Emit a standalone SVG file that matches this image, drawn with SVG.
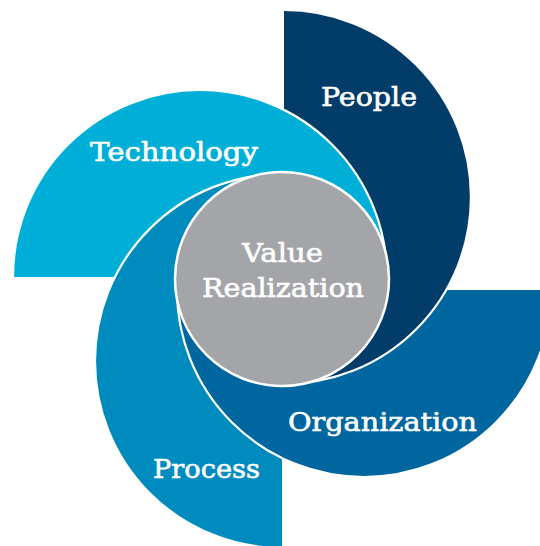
<svg xmlns="http://www.w3.org/2000/svg" xmlns:xlink="http://www.w3.org/1999/xlink" width="540" height="546" viewBox="0 0 540 546">
  <style>
    .edge { fill: none; stroke: #ffffff; stroke-width: 2.2; }
    .lbl { fill: #ffffff; stroke: #ffffff; stroke-width: 0.6; font-family: "DejaVu Serif", "Liberation Serif", serif; font-size: 26px; }
    .tech { fill: #00afd8; }
    .people { fill: #023d6a; }
    .org { fill: #00669f; }
    .proc { fill: #008bbf; }
  </style>
  <defs>
    <path id="orgShape" d="M 551 290 A 187 187 0 0 1 177 290 Z"/>
    <path id="orgArc" d="M 551 290 A 187 187 0 0 1 177 290"/>
    <clipPath id="leftHalf">
      <rect x="0" y="0" width="282" height="546"/>
    </clipPath>
  </defs>
  <rect x="0" y="0" width="540" height="546" fill="#ffffff"/>

  <g id="organization">
    <use xlink:href="#orgShape" class="org"/>
    <use xlink:href="#orgArc" class="edge"/>
  </g>

  <g id="people">
    <path class="people" d="M 284 10 A 187 187 0 0 1 284 384 Z"/>
    <path class="edge" d="M 284 10 A 187 187 0 0 1 284 384"/>
  </g>

  <g id="technology">
    <path class="tech" d="M 13 277 A 187 187 0 0 1 387 277 Z"/>
    <path class="edge" d="M 13 277 A 187 187 0 0 1 387 277"/>
  </g>

  <g id="process">
    <path class="proc" d="M 282 548 A 187 187 0 0 1 282 174 Z"/>
    <path class="edge" d="M 282 548 A 187 187 0 0 1 282 174"/>
  </g>

  <g id="organization-overlap" clip-path="url(#leftHalf)">
    <use xlink:href="#orgShape" class="org"/>
    <use xlink:href="#orgArc" class="edge"/>
  </g>

  <g id="value-realization">
    <circle cx="282" cy="279" r="107" fill="#a4a5a8" stroke="#ffffff" stroke-width="2.5"/>
    <text class="lbl" x="242" y="262" textLength="81" lengthAdjust="spacingAndGlyphs">Value</text>
    <text class="lbl" x="202" y="297" textLength="162" lengthAdjust="spacingAndGlyphs">Realization</text>
  </g>

  <g id="labels">
    <text class="lbl" x="321" y="106" textLength="96" lengthAdjust="spacingAndGlyphs">People</text>
    <text class="lbl" x="90" y="161" textLength="168" lengthAdjust="spacingAndGlyphs">Technology</text>
    <text class="lbl" x="288" y="431" textLength="189" lengthAdjust="spacingAndGlyphs">Organization</text>
    <text class="lbl" x="153" y="478" textLength="107" lengthAdjust="spacingAndGlyphs">Process</text>
  </g>
</svg>
